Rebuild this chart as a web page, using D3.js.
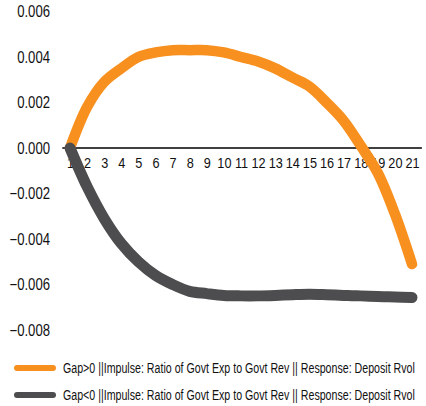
<!DOCTYPE html>
<html lang="en">
<head>
<meta charset="UTF-8">
<script src="https://cdnjs.cloudflare.com/ajax/libs/d3/7.8.5/d3.min.js"></script>
<style>
  body { margin: 0; background: white; }
  svg { display: block; font-family: "Liberation Sans", sans-serif; }
  .axis text { fill: #111; }
</style>
</head>
<body>
<script>
// periods on the x axis
var periods = d3.range(1, 22);
var yTicks = [0.006, 0.004, 0.002, 0, -0.002, -0.004, -0.006, -0.008];

// impulse responses
var gapPositive = [0, 0.0018, 0.0029, 0.0035, 0.0040, 0.0042, 0.0043, 0.0043, 0.0043, 0.0042,
  0.0040, 0.0038, 0.0035, 0.0031, 0.0027, 0.0020, 0.0012, 0.0001, -0.0011, -0.0029, -0.0051];
var gapNegative = [0, -0.0017, -0.0031, -0.0042, -0.0050, -0.0056, -0.0060, -0.0063, -0.0064, -0.00648,
  -0.0065, -0.0065, -0.00648, -0.00645, -0.00643, -0.00645, -0.00648, -0.0065, -0.00653, -0.00655, -0.00657];

var seriesNames = [
  "Gap>0 ||Impulse: Ratio of Govt Exp to Govt Rev || Response: Deposit Rvol",
  "Gap<0 ||Impulse: Ratio of Govt Exp to Govt Rev || Response: Deposit Rvol"
];
var colors = ["#f7901e", "#4d4d4f"];

var width = 426, height = 406;

var x = d3.scaleLinear().domain([1, 21]).range([70, 412]);
var y = d3.scaleLinear().domain([-0.008, 0.006]).range([330, 11.5]);

var svg = d3.select("body").append("svg")
  .attr("width", width)
  .attr("height", height);

// y labels only, no axis line
var yAxis = d3.axisLeft(y).tickValues(yTicks).tickSize(0).tickPadding(0)
  .tickFormat(d3.format(".3f"));
svg.append("g")
  .attr("class", "axis")
  .attr("transform", "translate(50,0)")
  .call(yAxis)
  .call(g => g.select(".domain").remove())
  .selectAll("text")
  .style("font-size", "16px")
  .attr("transform", "scale(0.82,1)");

// x axis on the zero line
var xAxis = d3.axisBottom(x).tickValues(periods).tickSize(0).tickPadding(9)
  .tickFormat(d3.format("d"));
var xg = svg.append("g")
  .attr("class", "axis")
  .attr("transform", "translate(0," + y(0) + ")")
  .call(xAxis);
xg.select(".domain").remove();
xg.selectAll("text")
  .style("font-size", "15.5px")
  .attr("transform", "scale(0.82,1)");
xg.append("line")
  .attr("x1", x(0.55)).attr("x2", x(21.58))
  .attr("stroke", "#000").attr("stroke-width", 1.6);

var line = d3.line()
  .x((d, i) => x(periods[i]))
  .y(d => y(d))
  .curve(d3.curveCatmullRom);

[gapPositive, gapNegative].forEach(function(s, i) {
  svg.append("path")
    .datum(s)
    .attr("fill", "none")
    .attr("stroke", colors[i])
    .attr("stroke-width", i == 0 ? 10.5 : 11)
    .attr("stroke-linecap", "round")
    .attr("stroke-linejoin", "round")
    .attr("d", line);
});

// legend
var legend = svg.selectAll(".legend")
  .data(seriesNames)
  .enter().append("g")
  .attr("class", "legend")
  .attr("transform", (d, i) => "translate(0," + (368 + i * 27) + ")");

legend.append("line")
  .attr("x1", 17).attr("x2", 53)
  .attr("stroke", (d, i) => colors[i])
  .attr("stroke-width", 6)
  .attr("stroke-linecap", "round");

// squeeze the text horizontally to the narrow look of the original
legend.append("text")
  .attr("dy", "0.35em")
  .style("font-size", "15px")
  .style("fill", "#111")
  .text(d => d)
  .each(function() {
    var k = 352 / this.getComputedTextLength();
    d3.select(this).attr("transform", "translate(63,0) scale(" + k + ",1)");
  });
</script>
</body>
</html>
